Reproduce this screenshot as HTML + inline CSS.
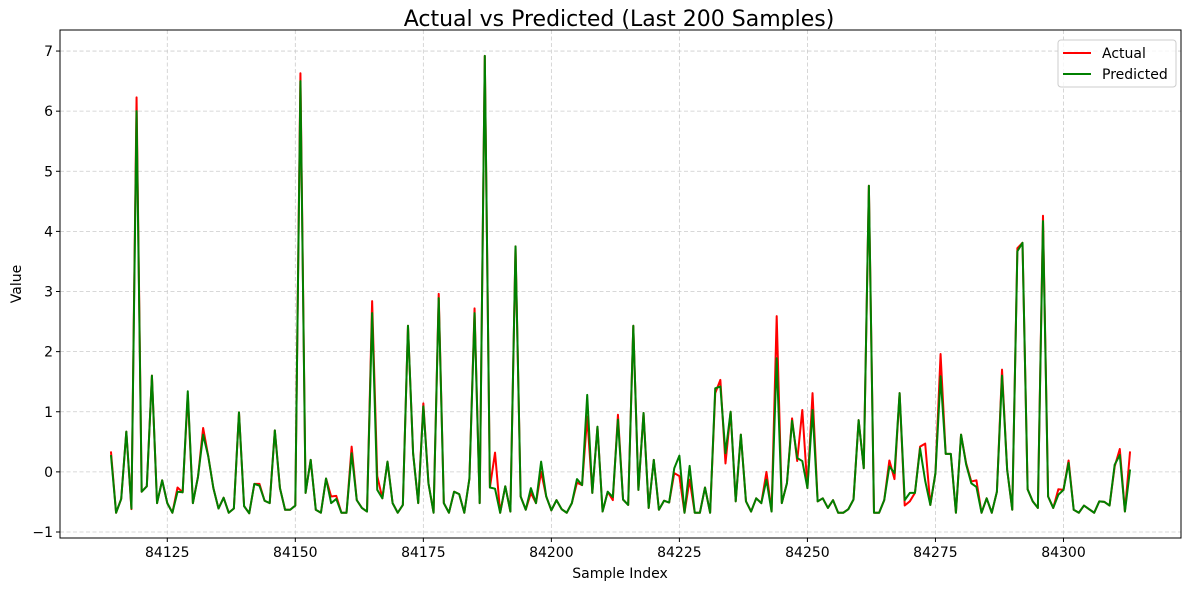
<!DOCTYPE html>
<html><head><meta charset="utf-8"><style>
body{margin:0;background:#fff;}
svg text{font-family:"DejaVu Sans","Liberation Sans",sans-serif;fill:#000;}
</style></head><body>
<svg id="chart" width="1189" height="590" viewBox="0 0 1189 590" xmlns="http://www.w3.org/2000/svg">
<rect width="1189" height="590" fill="#fff"/>
<text x="619" y="26" text-anchor="middle" font-size="22">Actual vs Predicted (Last 200 Samples)</text>
<g id="grid"></g>
<g id="series"></g>
<rect x="60" y="30" width="1121" height="508" fill="none" stroke="#000" stroke-width="1"/>
<g id="ticks"></g>
<text x="620" y="578" text-anchor="middle" font-size="14">Sample Index</text>
<text transform="translate(21,284) rotate(-90)" text-anchor="middle" font-size="14">Value</text>
<g>
<rect x="1058" y="40" width="118" height="47" rx="3" fill="#fff" fill-opacity="0.8" stroke="#ccc"/>
<g><line x1="1063" y1="53" x2="1091" y2="53" stroke="red" stroke-width="2"/><text x="1102" y="58" font-size="14">Actual</text></g>
<g><line x1="1063" y1="74" x2="1091" y2="74" stroke="green" stroke-width="2"/><text x="1102" y="79" font-size="14">Predicted</text></g>
</g>
</svg>
<script>
const startIndex = 84114;
const actual = [0.34,-0.68,-0.45,0.67,-0.62,6.23,-0.33,-0.24,1.6,-0.52,-0.14,-0.52,-0.68,-0.26,-0.34,1.28,-0.52,-0.08,0.73,0.26,-0.27,-0.61,-0.43,-0.68,-0.61,0.99,-0.57,-0.69,-0.2,-0.2,-0.48,-0.52,0.69,-0.27,-0.63,-0.63,-0.56,6.63,-0.35,0.2,-0.63,-0.68,-0.11,-0.41,-0.4,-0.68,-0.68,0.42,-0.47,-0.6,-0.66,2.84,-0.07,-0.44,0.17,-0.52,-0.68,-0.55,2.43,0.31,-0.52,1.14,-0.19,-0.68,2.96,-0.52,-0.68,-0.33,-0.37,-0.68,-0.11,2.72,-0.52,6.92,-0.26,0.32,-0.68,-0.24,-0.66,3.75,-0.41,-0.63,-0.35,-0.52,0.0,-0.41,-0.64,-0.47,-0.62,-0.68,-0.52,-0.18,-0.22,0.92,-0.35,0.75,-0.66,-0.33,-0.47,0.95,-0.46,-0.55,2.43,-0.3,0.98,-0.6,0.2,-0.63,-0.48,-0.51,-0.02,-0.07,-0.68,-0.13,-0.68,-0.68,-0.26,-0.68,1.31,1.53,0.14,1.0,-0.49,0.62,-0.49,-0.66,-0.44,-0.52,0.0,-0.66,2.59,-0.52,-0.19,0.89,0.18,1.03,-0.27,1.31,-0.49,-0.44,-0.6,-0.47,-0.68,-0.68,-0.62,-0.46,0.86,0.06,4.76,-0.68,-0.68,-0.47,0.19,-0.12,1.31,-0.56,-0.49,-0.35,0.42,0.47,-0.55,-0.02,1.96,0.3,0.3,-0.68,0.62,0.14,-0.16,-0.14,-0.68,-0.44,-0.68,-0.33,1.7,0.04,-0.63,3.72,3.81,-0.29,-0.49,-0.6,4.26,-0.41,-0.6,-0.29,-0.3,0.19,-0.63,-0.68,-0.56,-0.62,-0.68,-0.49,-0.5,-0.56,0.09,0.38,-0.66,0.34];
const predicted = [0.28,-0.68,-0.45,0.67,-0.61,6.0,-0.33,-0.24,1.6,-0.52,-0.14,-0.52,-0.68,-0.33,-0.34,1.34,-0.52,-0.08,0.62,0.26,-0.27,-0.61,-0.43,-0.68,-0.61,0.99,-0.57,-0.69,-0.2,-0.23,-0.48,-0.52,0.69,-0.27,-0.63,-0.63,-0.56,6.5,-0.35,0.2,-0.63,-0.68,-0.11,-0.52,-0.45,-0.68,-0.68,0.31,-0.47,-0.6,-0.66,2.64,-0.3,-0.44,0.17,-0.52,-0.68,-0.55,2.43,0.31,-0.52,1.09,-0.19,-0.68,2.89,-0.52,-0.68,-0.33,-0.37,-0.68,-0.11,2.64,-0.52,6.92,-0.26,-0.28,-0.68,-0.24,-0.66,3.75,-0.41,-0.63,-0.27,-0.52,0.17,-0.41,-0.64,-0.47,-0.62,-0.68,-0.52,-0.12,-0.22,1.28,-0.35,0.75,-0.66,-0.33,-0.42,0.87,-0.46,-0.55,2.43,-0.3,0.98,-0.6,0.2,-0.63,-0.48,-0.51,0.06,0.27,-0.68,0.1,-0.68,-0.68,-0.26,-0.68,1.39,1.42,0.31,1.0,-0.49,0.62,-0.49,-0.66,-0.44,-0.52,-0.13,-0.66,1.89,-0.52,-0.19,0.85,0.23,0.18,-0.27,1.03,-0.49,-0.44,-0.6,-0.47,-0.68,-0.68,-0.62,-0.46,0.86,0.06,4.76,-0.68,-0.68,-0.47,0.09,-0.02,1.31,-0.47,-0.35,-0.35,0.39,-0.15,-0.55,-0.02,1.59,0.3,0.3,-0.68,0.62,0.12,-0.19,-0.25,-0.68,-0.44,-0.68,-0.33,1.6,0.04,-0.63,3.67,3.81,-0.29,-0.49,-0.6,4.17,-0.41,-0.6,-0.38,-0.3,0.15,-0.63,-0.68,-0.56,-0.62,-0.68,-0.49,-0.5,-0.56,0.12,0.28,-0.66,0.04];
const xTicks = [84125,84150,84175,84200,84225,84250,84275,84300];
const yTicks = [-1,0,1,2,3,4,5,6,7];

const NS = "http://www.w3.org/2000/svg";
const L = 60, R = 1181, T = 30, B = 538;
const xMin = 84114 - 9.95, xMax = 84313 + 9.95;
const yMin = -1.1, yMax = 7.35;
function xs(v){ return L + (v - xMin) / (xMax - xMin) * (R - L); }
function ys(v){ return B - (v - yMin) / (yMax - yMin) * (B - T); }

const grid = document.getElementById('grid');
const ticks = document.getElementById('ticks');
xTicks.forEach(t => {
  const g = document.createElementNS(NS, 'line');
  g.setAttribute('x1', xs(t)); g.setAttribute('x2', xs(t));
  g.setAttribute('y1', T); g.setAttribute('y2', B);
  g.setAttribute('stroke', '#ccc'); g.setAttribute('stroke-dasharray', '4,2.5'); g.setAttribute('stroke-width', '0.8');
  
  
  grid.appendChild(g);
  const tk = document.createElementNS(NS, 'line');
  tk.setAttribute('x1', xs(t)); tk.setAttribute('x2', xs(t));
  tk.setAttribute('y1', B); tk.setAttribute('y2', B + 4); tk.setAttribute('stroke', '#000');
  
  
  ticks.appendChild(tk);
  const tx = document.createElementNS(NS, 'text');
  tx.setAttribute('x', xs(t)); tx.setAttribute('y', B + 19);
  tx.setAttribute('text-anchor', 'middle'); tx.setAttribute('font-size', '14');
  tx.textContent = t;
  
  
  ticks.appendChild(tx);
});
yTicks.forEach(t => {
  const g = document.createElementNS(NS, 'line');
  g.setAttribute('x1', L); g.setAttribute('x2', R);
  g.setAttribute('y1', ys(t)); g.setAttribute('y2', ys(t));
  g.setAttribute('stroke', '#ccc'); g.setAttribute('stroke-dasharray', '4,2.5'); g.setAttribute('stroke-width', '0.8');
  
  
  grid.appendChild(g);
  const tk = document.createElementNS(NS, 'line');
  tk.setAttribute('x1', L - 4); tk.setAttribute('x2', L);
  tk.setAttribute('y1', ys(t)); tk.setAttribute('y2', ys(t)); tk.setAttribute('stroke', '#000');
  
  
  ticks.appendChild(tk);
  const tx = document.createElementNS(NS, 'text');
  tx.setAttribute('x', L - 7); tx.setAttribute('y', ys(t) + 5);
  tx.setAttribute('text-anchor', 'end'); tx.setAttribute('font-size', '14');
  tx.textContent = t < 0 ? '\u2212' + Math.abs(t) : t;
  
  
  ticks.appendChild(tx);
});

const series = document.getElementById('series');
function drawLine(vals, color, name){
  const p = document.createElementNS(NS, 'polyline');
  p.setAttribute('points', vals.map((v, i) => xs(startIndex + i).toFixed(2) + ',' + ys(v).toFixed(2)).join(' '));
  p.setAttribute('fill', 'none'); p.setAttribute('stroke', color);
  p.setAttribute('stroke-width', '2'); p.setAttribute('stroke-linejoin', 'round');
  
  
  series.appendChild(p);
}
drawLine(actual, 'red', 'actual-line');
drawLine(predicted, 'green', 'predicted-line');
</script>
</body></html>
